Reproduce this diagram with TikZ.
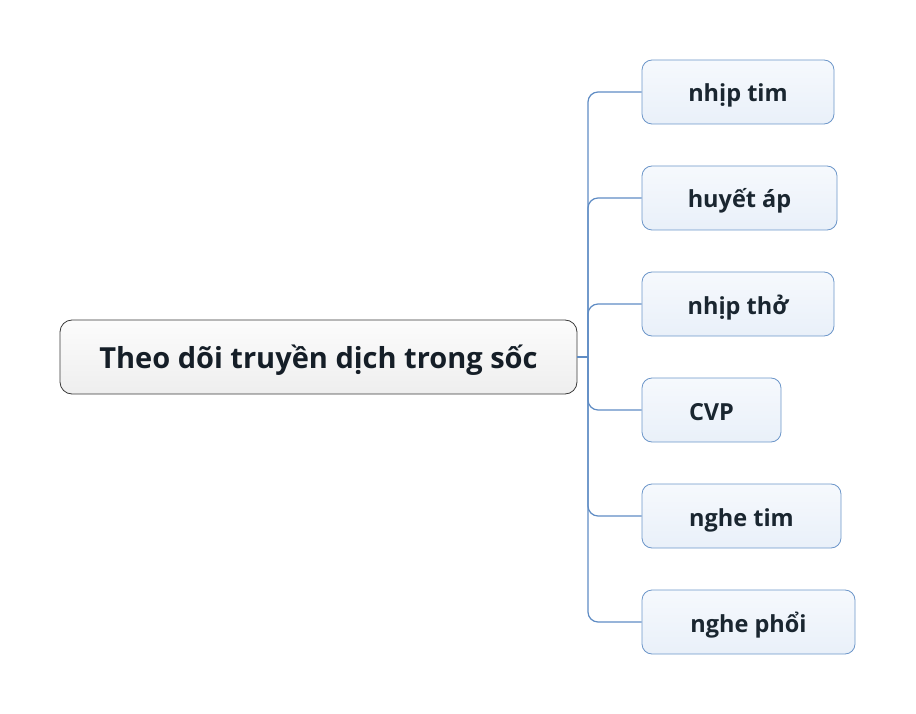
\documentclass[tikz,border=0pt]{standalone}
\usepackage{fontspec}
\setmainfont{Open Sans}
\definecolor{linec}{HTML}{5F8CC4}
\definecolor{cborder}{HTML}{6C96C9}
\definecolor{ctop}{HTML}{F6F9FD}
\definecolor{cbot}{HTML}{E9F0F9}
\definecolor{rtop}{HTML}{FCFCFC}
\definecolor{rbot}{HTML}{EEEEEE}
\definecolor{rborder}{HTML}{3A3A3A}
\definecolor{txt}{HTML}{1A2630}
\begin{document}
\begin{tikzpicture}[x=1pt,y=-1pt,
  rootbox/.style={draw=rborder, line width=0.8pt, rounded corners=12pt, top color=rtop, bottom color=rbot,
     minimum width=517pt, minimum height=74pt, font=\fontsize{29}{34}\selectfont\bfseries, text=txt!80!black,
     inner sep=0pt, text height=22pt, text depth=0pt},
  childbox/.style={draw=cborder, line width=0.8pt, rounded corners=10pt, top color=ctop, bottom color=cbot,
     minimum height=64pt, font=\fontsize{23.5}{28}\selectfont\bfseries, text=txt, inner sep=0pt,
     text height=20pt, text depth=0pt},
  conn/.style={draw=linec, line width=1.2pt, rounded corners=10pt}]
\useasboundingbox (0,0) rectangle (916,714);
\node[rootbox] (root) at (318.5,357) {Theo dõi truyền dịch trong sốc};
\node[childbox, minimum width=192pt] (c1) at (738,92) {nhịp tim};
\node[childbox, minimum width=195pt] (c2) at (739.5,198) {huyết áp};
\node[childbox, minimum width=192pt] (c3) at (738,304) {nhịp thở};
\node[childbox, minimum width=139pt] (c4) at (711.5,410) {CVP};
\node[childbox, minimum width=199pt] (c5) at (741.5,516) {nghe tim};
\node[childbox, minimum width=213pt] (c6) at (748.5,622) {nghe phổi};
\coordinate (j) at (588,357);
\draw[conn, rounded corners=0pt] (root.east) -- (j);
\foreach \c in {c1,c2,c3,c4,c5,c6}{
  \draw[conn] (j) |- (\c.west);
}
\end{tikzpicture}
\end{document}
